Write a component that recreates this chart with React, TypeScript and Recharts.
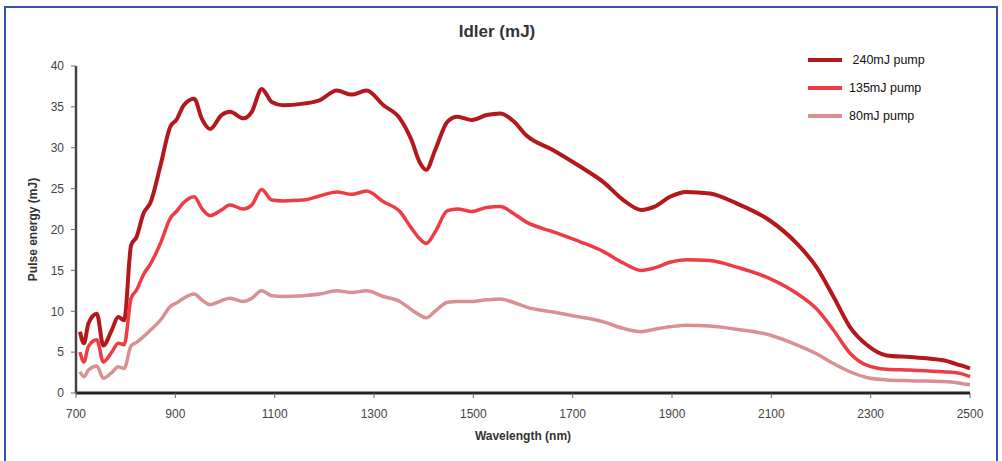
import React from 'react';
import { LineChart, Line, XAxis, YAxis, Label } from 'recharts';

const wavelengths = [
  708, 716, 725, 742, 755, 772, 785, 797, 811, 822, 836, 850, 870, 890, 902, 917, 938, 953, 970, 993,
  1010, 1037, 1054, 1074, 1094, 1117, 1158, 1190, 1225, 1255, 1285, 1319, 1352, 1375, 1393, 1405, 1423,
  1448, 1468, 1497, 1527, 1554, 1580, 1607, 1661, 1715, 1762, 1802, 1838, 1865, 1896, 1929, 1976, 2030,
  2097, 2151, 2191, 2225, 2258, 2292, 2332, 2379, 2446, 2480, 2500,
];

const pump240 = [
  7.5, 6.1, 8.5, 9.7, 5.8, 7.7, 9.3, 8.9, 18.1, 19.1, 22.0, 23.3, 27.8, 32.6, 33.4, 35.2, 36.0, 33.6, 32.3, 34.0,
  34.4, 33.6, 34.4, 37.2, 35.6, 35.2, 35.4, 35.8, 37.0, 36.5, 37.0, 35.2, 33.6, 31.0, 28.1, 27.3, 29.7,
  33.2, 33.8, 33.4, 34.0, 34.2, 33.3, 31.5, 29.7, 27.7, 25.8, 23.6, 22.4, 22.8, 24.0, 24.6, 24.4, 23.2,
  21.1, 18.3, 15.4, 11.8, 8.1, 5.9, 4.6, 4.4, 4.0, 3.4, 3.0,
];

const pump135 = [
  5.0, 3.8, 5.7, 6.5, 3.8, 5.0, 6.1, 5.9, 11.6, 12.6, 14.5, 15.8, 18.3, 21.4, 22.2, 23.3, 24.0, 22.6, 21.7, 22.4,
  23.0, 22.5, 23.0, 24.9, 23.6, 23.5, 23.6, 24.1, 24.6, 24.3, 24.7, 23.4, 22.2, 20.2, 18.8, 18.3, 19.7,
  22.3, 22.5, 22.2, 22.7, 22.8, 22.0, 20.9, 19.7, 18.5, 17.3, 15.9, 15.0, 15.3, 16.0, 16.3, 16.2, 15.4,
  14.0, 12.2, 10.3, 7.7, 4.9, 3.4, 2.9, 2.8, 2.6, 2.4, 2.0,
];

const pump80 = [
  2.6, 2.0, 2.8, 3.3, 1.8, 2.5, 3.2, 3.0, 5.8, 6.2, 6.9, 7.7, 8.9, 10.6, 11.0, 11.6, 12.1, 11.4, 10.8, 11.3,
  11.6, 11.2, 11.6, 12.5, 11.9, 11.8, 11.9, 12.1, 12.5, 12.3, 12.5, 11.8, 11.2, 10.2, 9.5, 9.2, 10.0,
  11.1, 11.2, 11.2, 11.4, 11.5, 11.1, 10.5, 9.9, 9.3, 8.7, 7.9, 7.5, 7.8, 8.1, 8.3, 8.2, 7.8,
  7.1, 5.9, 4.8, 3.6, 2.6, 1.9, 1.6, 1.5, 1.4, 1.2, 1.0,
];

const xTicks = [700, 900, 1100, 1300, 1500, 1700, 1900, 2100, 2300, 2500];
const yTicks = [0, 5, 10, 15, 20, 25, 30, 35, 40];

const series = [
  { key: 'p240', name: ' 240mJ pump', color: '#b3181d', width: 4 },
  { key: 'p135', name: '135mJ pump', color: '#ef3b43', width: 3.5 },
  { key: 'p80', name: '80mJ pump', color: '#da9092', width: 3.5 },
];

const data = wavelengths.map((w, i) => ({
  wl: w,
  p240: pump240[i],
  p135: pump135[i],
  p80: pump80[i],
}));

const font = '"Liberation Sans", Arial, sans-serif';

export default function App() {
  return (
    <div style={{ position: 'absolute', left: 0, top: 0, width: 1002, height: 461, background: '#fff', fontFamily: font }}>
      <div
        style={{
          position: 'absolute',
          left: 4,
          top: 6,
          width: 994,
          height: 470,
          border: '2px solid #3652a6',
          boxSizing: 'border-box',
        }}
      />
      <div
        style={{
          position: 'absolute',
          left: 0,
          width: 994,
          top: 22,
          textAlign: 'center',
          fontSize: 17,
          fontWeight: 'bold',
          color: '#333',
        }}
      >
        Idler (mJ)
      </div>
      <LineChart
        width={1002}
        height={461}
        data={data}
        margin={{ top: 66, right: 32, left: 36, bottom: 38 }}
        style={{ position: 'absolute', left: 0, top: 0 }}
      >
        <XAxis
          dataKey="wl"
          type="number"
          domain={[700, 2500]}
          ticks={xTicks}
          height={30}
          tickSize={5}
          tickMargin={11}
          axisLine={{ stroke: '#222', strokeWidth: 3 }}
          tickLine={{ stroke: '#666' }}
          tick={{ fill: '#444', fontSize: 12, fontFamily: font }}
        >
          <Label
            value="Wavelength (nm)"
            position="bottom"
            offset={8}
            style={{ fontSize: 12, fontWeight: 'bold', fill: '#333', fontFamily: font }}
          />
        </XAxis>
        <YAxis
          type="number"
          domain={[0, 40]}
          ticks={yTicks}
          width={40}
          tickSize={5}
          tickMargin={7}
          axisLine={{ stroke: '#444', strokeWidth: 2.5 }}
          tickLine={{ stroke: '#666' }}
          tick={{ fill: '#444', fontSize: 12, fontFamily: font }}
        >
          <Label
            value="Pulse energy (mJ)"
            angle={-90}
            position="insideLeft"
            offset={-3}
            style={{ fontSize: 12, fontWeight: 'bold', fill: '#333', fontFamily: font, textAnchor: 'middle' }}
          />
        </YAxis>
        {series.map((s) => (
          <Line
            key={s.key}
            type="monotone"
            dataKey={s.key}
            name={s.name}
            stroke={s.color}
            strokeWidth={s.width}
            dot={false}
            activeDot={false}
            isAnimationActive={false}
          />
        ))}
      </LineChart>
      <div style={{ position: 'absolute', left: 808, top: 46 }}>
        {series.map((s) => (
          <div key={s.key} style={{ display: 'flex', alignItems: 'center', height: 28 }}>
            <span style={{ display: 'inline-block', width: 34, height: 4, background: s.color, marginRight: 7 }} />
            <span style={{ fontSize: 12.5, color: '#111', whiteSpace: 'pre' }}>{s.name}</span>
          </div>
        ))}
      </div>
    </div>
  );
}
